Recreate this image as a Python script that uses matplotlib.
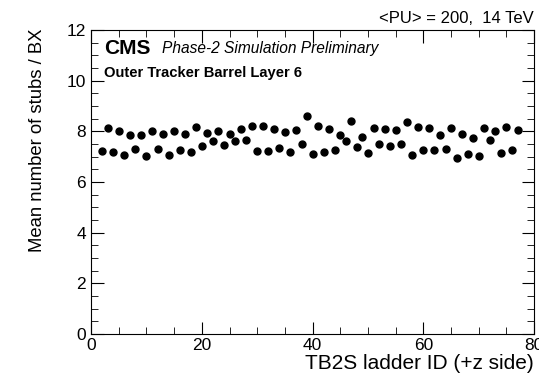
import numpy as np
import matplotlib.pyplot as plt
from matplotlib.ticker import MultipleLocator

plt.rcParams['font.family'] = ['Liberation Sans', 'DejaVu Sans']

# ladder positions and mean stubs per BX
ladder = np.arange(2, 78)
mean_stubs = [7.22, 8.14, 7.18, 8.00, 7.05, 7.87, 7.32, 7.87, 7.01, 8.01,
              7.32, 7.91, 7.08, 8.01, 7.25, 7.91, 7.18, 8.19, 7.42, 7.95,
              7.60, 8.00, 7.45, 7.91, 7.60, 8.08, 7.64, 8.21, 7.21, 8.23,
              7.21, 8.08, 7.34, 7.97, 7.18, 8.04, 7.49, 8.60, 7.09, 8.23,
              7.18, 8.10, 7.28, 7.84, 7.60, 8.40, 7.38, 7.77, 7.16, 8.14,
              7.51, 8.10, 7.42, 8.04, 7.51, 8.36, 7.08, 8.17, 7.25, 8.13,
              7.25, 7.84, 7.29, 8.13, 6.96, 7.88, 7.12, 7.73, 7.03, 8.13,
              7.64, 8.01, 7.16, 8.19, 7.28, 8.04]

fig = plt.figure(figsize=(5.39, 3.76), dpi=100)
ax = fig.add_axes([0.169, 0.112, 0.822, 0.808])
ax.plot(ladder, mean_stubs, 'o', color='black', ms=5)

ax.set_xlim(0, 80)
ax.set_ylim(0, 12)
ax.xaxis.set_major_locator(MultipleLocator(20))
ax.xaxis.set_minor_locator(MultipleLocator(5))
ax.yaxis.set_major_locator(MultipleLocator(2))
ax.yaxis.set_minor_locator(MultipleLocator(0.5))
ax.tick_params(which='both', direction='in', top=True, right=True, labelsize=12.5)
ax.tick_params(which='major', length=9)
ax.tick_params(which='minor', length=5)
ax.tick_params(axis='x', pad=3)

ax.set_xlabel('TB2S ladder ID (+z side)', fontsize=15, ha='right')
ax.xaxis.set_label_coords(1.0, -0.066)
ax.set_ylabel('Mean number of stubs / BX', fontsize=13.3, ha='right')
ax.yaxis.set_label_coords(-0.102, 1.005)

ax.text(1.0, 1.015, '<PU> = 200,  14 TeV', transform=ax.transAxes,
        ha='right', va='bottom', fontsize=12)
ax.text(0.03, 0.941, 'CMS', transform=ax.transAxes, fontsize=15,
        fontweight='bold', va='center')
ax.text(0.160, 0.938, 'Phase-2 Simulation Preliminary', transform=ax.transAxes,
        fontsize=11.2, style='italic', va='center')
ax.text(0.03, 0.859, 'Outer Tracker Barrel Layer 6', transform=ax.transAxes,
        fontsize=10.6, fontweight='bold', va='center')

plt.savefig('out.png', dpi=100)
